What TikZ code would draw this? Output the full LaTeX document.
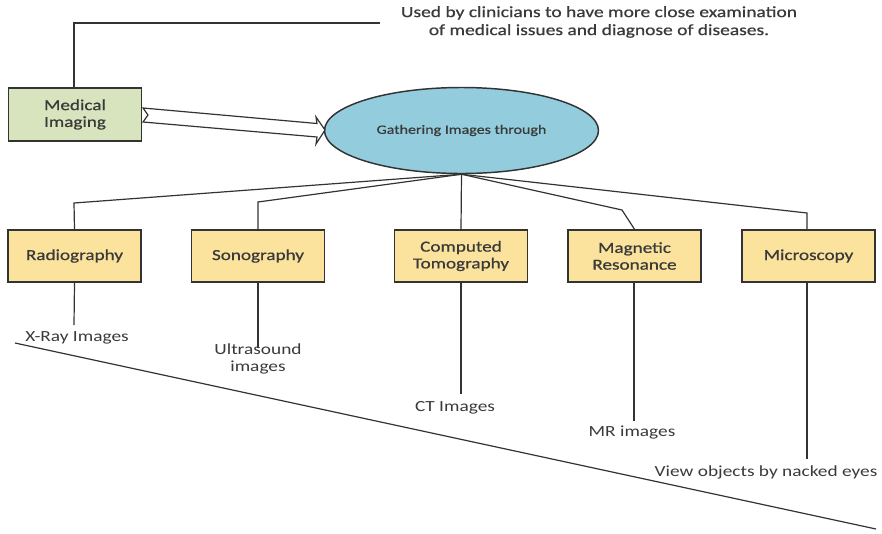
\documentclass[tikz,border=0pt]{standalone}
\usepackage{fontspec}
\setmainfont[FakeStretch=1.25]{Carlito}
\newfontfamily\heavyfont[FakeStretch=1.25,FakeBold=0.7]{Carlito}
\usetikzlibrary{shapes.geometric}
\definecolor{gfill}{HTML}{D7E4BD}
\definecolor{bfill}{HTML}{93CDDD}
\definecolor{yfill}{HTML}{FBE39D}
\definecolor{ink}{HTML}{333333}
\definecolor{txt}{HTML}{3A3A3A}
\tikzset{
  box/.style={draw=ink, line width=1.1pt, minimum width=99.75pt, minimum height=39pt, inner sep=1pt, align=center, text=txt, font=\heavyfont\fontsize{11.5}{12.6}\selectfont},
  link/.style={draw=ink, line width=0.9pt},
  lbl/.style={text=txt, font=\fontsize{11.6}{12.8}\selectfont, inner sep=0pt, align=center}
}
\begin{document}
\begin{tikzpicture}[x=0.75pt,y=-0.75pt]
\useasboundingbox (0,0) rectangle (882,533);
% main nodes
\node[box, fill=gfill, minimum height=39.75pt] (med) at (75,114.5) {Medical\\Imaging};
\node[ellipse, draw=ink, line width=1.1pt, fill=bfill, minimum width=205.5pt, minimum height=64.5pt, inner sep=0pt, text=txt, font=\heavyfont\fontsize{9.6}{10}\selectfont] (ell) at (461.5,130.5) {Gathering Images through};
\node[box, fill=yfill] (rad) at (74.5,256) {Radiography};
\node[box, fill=yfill] (son) at (258,256) {Sonography};
\node[box, fill=yfill] (ct) at (461,256) {Computed\\Tomography};
\node[box, fill=yfill] (mr) at (634.5,256) {Magnetic\\Resonance};
\node[box, fill=yfill] (mic) at (808.5,256) {Microscopy};
% top note
\node[lbl, font=\heavyfont\fontsize{11.7}{13.5}\selectfont] (note) at (599,22) {Used by clinicians to have more close examination\\of medical issues and diagnose of diseases.};
\coordinate (n1) at (74,23);
\coordinate (n2) at (380,23);
\draw[link] (med.north -| n1) -- (n1) -- (n2);
% hollow notched arrow
\draw[draw=ink, line width=0.9pt, fill=white] (143,108) -- (317,123.5) -- (316,117) -- (325,130) -- (316,144) -- (317,137) -- (143,122) -- (148,115) -- cycle;
% branches
\coordinate (b1) at (74,203);
\coordinate (b2) at (258,202);
\coordinate (b4) at (622,210);
\coordinate (b5) at (807,213);
\draw[link] (ell.south) -- (b1) -- (rad.north);
\draw[link] (ell.south) -- (b2) -- (son.north);
\draw[link] (ell.south) -- (ct.north);
\draw[link] (ell.south) -- (b4) -- (mr.north);
\draw[link] (ell.south) -- (b5) -- (b5 |- mic.north);
% drops and labels
\coordinate (d1) at (74,325);
\coordinate (d2) at (258,348);
\coordinate (d3) at (461,394);
\coordinate (d4) at (634,421);
\coordinate (d5) at (807,459);
\draw[link] (rad.south) -- (d1);
\draw[link] (son.south) -- (d2);
\draw[link] (ct.south) -- (d3);
\draw[link] (d4 |- mr.south) -- (d4);
\draw[link] (d5 |- mic.south) -- (d5);
\node[lbl] (l1) at (77,338) {X-Ray Images};
\node[lbl] (l2) at (258,358.5) {Ultrasound\\images};
\node[lbl] (l3) at (455,408) {CT Images};
\node[lbl] (l4) at (632,433) {MR images};
\node[lbl] (l5) at (766,472) {View objects by nacked eyes};
% long diagonal
\coordinate (s1) at (15,343);
\coordinate (s2) at (876,529);
\draw[link] (s1) -- (s2);
\end{tikzpicture}
\end{document}
